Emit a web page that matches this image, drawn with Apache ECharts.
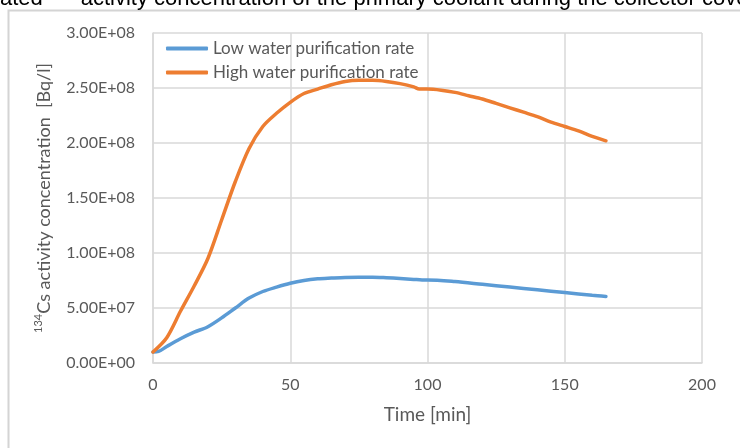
<!DOCTYPE html>
<html>
<head>
<meta charset="utf-8">
<style>
  html, body { margin: 0; padding: 0; background: #ffffff; }
  #chart { width: 740px; height: 448px; }
</style>
<script src="https://cdn.jsdelivr.net/npm/echarts@6/dist/echarts.min.js"></script>
</head>
<body>
<div id="chart"></div>
<script>
// Time after start [min]
const timeLow = [0, 2, 5, 10, 15, 20, 25, 30, 35, 40, 45, 50, 55, 60, 65, 70, 75, 80, 85, 90, 95, 98, 100, 110, 120, 130, 140, 150, 160, 165];
// 134Cs activity concentration [Bq/l], low water purification rate
const valuesLow = [1.0e7, 1.05e7, 1.5e7, 2.2e7, 2.8e7, 3.3e7, 4.1e7, 5.0e7, 5.9e7, 6.5e7, 6.9e7, 7.25e7, 7.5e7, 7.65e7, 7.72e7, 7.78e7, 7.8e7, 7.8e7, 7.75e7, 7.68e7, 7.6e7, 7.55e7, 7.55e7, 7.4e7, 7.15e7, 6.9e7, 6.65e7, 6.4e7, 6.15e7, 6.05e7];

const timeHigh = [0, 5, 10, 15, 20, 25, 30, 35, 40, 45, 50, 55, 60, 65, 70, 75, 80, 85, 90, 95, 97, 100, 105, 110, 115, 120, 125, 130, 135, 140, 145, 150, 155, 160, 165];
// 134Cs activity concentration [Bq/l], high water purification rate
const valuesHigh = [1.0e7, 2.3e7, 4.7e7, 7.0e7, 9.5e7, 1.3e8, 1.65e8, 1.95e8, 2.15e8, 2.27e8, 2.37e8, 2.45e8, 2.49e8, 2.53e8, 2.56e8, 2.57e8, 2.57e8, 2.56e8, 2.54e8, 2.51e8, 2.49e8, 2.49e8, 2.48e8, 2.46e8, 2.43e8, 2.40e8, 2.36e8, 2.32e8, 2.28e8, 2.24e8, 2.19e8, 2.15e8, 2.11e8, 2.06e8, 2.02e8];

const seriesNames = ['Low water purification rate', 'High water purification rate'];

const xTicks = { min: 0, max: 200, step: 50 };
const yTicks = { min: 0, max: 3e8, step: 5e7 };

function sci(v) {
  // Spreadsheet style scientific notation, e.g. 2.50E+08
  if (v === 0) return '0.00E+00';
  const exp = Math.floor(Math.log10(Math.abs(v)));
  const mant = v / Math.pow(10, exp);
  const sign = exp < 0 ? '-' : '+';
  const e = String(Math.abs(exp)).padStart(2, '0');
  return mant.toFixed(2) + 'E' + sign + e;
}

const pair = (xs, ys) => xs.map((x, i) => [x, ys[i]]);

const chart = echarts.init(document.getElementById('chart'), null, { renderer: 'canvas' });
const labelColor = '#595959';
const gridColor = '#d9d9d9';
const font = 'Lato, "Open Sans", sans-serif';

chart.setOption({
  backgroundColor: '#ffffff',
  animation: false,
  textStyle: { fontFamily: font },
  graphic: [
    {
      type: 'text',
      left: 0,
      top: -12,
      style: {
        text: 'ated     \u00b9activity concentration of the primary coolant during the collector cove',
        font: '22px "Liberation Sans", Arial, sans-serif',
        fill: '#000000'
      },
      z: 10
    },
    {
      type: 'rect',
      shape: { x: 8.5, y: 10.5, width: 800, height: 500 },
      style: { fill: 'none', stroke: '#d4d4d4', lineWidth: 2 },
      z: 0
    }
  ],
  grid: { left: 153, right: 38, top: 33, bottom: 85, containLabel: false },
  legend: {
    orient: 'vertical',
    left: 161,
    top: 35,
    itemWidth: 42,
    itemHeight: 4,
    itemGap: 7,
    icon: 'roundRect',
    textStyle: { color: labelColor, fontSize: 17, fontFamily: font },
    data: seriesNames
  },
  xAxis: {
    type: 'value',
    min: xTicks.min,
    max: xTicks.max,
    interval: xTicks.step,
    name: 'Time [min]',
    nameLocation: 'middle',
    nameGap: 42,
    nameTextStyle: { color: labelColor, fontSize: 19, fontFamily: font },
    axisLine: { show: true, lineStyle: { color: gridColor, width: 1.5 } },
    axisTick: { show: false },
    axisLabel: { color: labelColor, fontSize: 16, margin: 14 },
    splitLine: { show: true, lineStyle: { color: gridColor, width: 1.5 } }
  },
  yAxis: {
    type: 'value',
    min: yTicks.min,
    max: yTicks.max,
    interval: yTicks.step,
    name: '{s|134}Cs activity concentration  [Bq/l]',
    nameLocation: 'middle',
    nameGap: 92,
    nameRotate: 90,
    nameTextStyle: {
      color: labelColor,
      fontSize: 18,
      fontFamily: font,
      lineHeight: 22,
      rich: {
        s: { fontSize: 11, color: labelColor, lineHeight: 22, verticalAlign: 'top', fontFamily: font }
      }
    },
    axisLine: { show: true, lineStyle: { color: gridColor, width: 1.5 } },
    axisTick: { show: false },
    axisLabel: { color: labelColor, fontSize: 16, margin: 18, formatter: sci },
    splitLine: { show: true, lineStyle: { color: gridColor, width: 1.5 } }
  },
  series: [
    {
      name: seriesNames[0],
      type: 'line',
      data: pair(timeLow, valuesLow),
      smooth: 0.3,
      showSymbol: false,
      symbol: 'none',
      color: '#5b9bd5',
      lineStyle: { width: 3.5, color: '#5b9bd5', cap: 'round' }
    },
    {
      name: seriesNames[1],
      type: 'line',
      data: pair(timeHigh, valuesHigh),
      smooth: 0.3,
      showSymbol: false,
      symbol: 'none',
      color: '#ed7d31',
      lineStyle: { width: 3.5, color: '#ed7d31', cap: 'round' }
    }
  ]
});
</script>
</body>
</html>
